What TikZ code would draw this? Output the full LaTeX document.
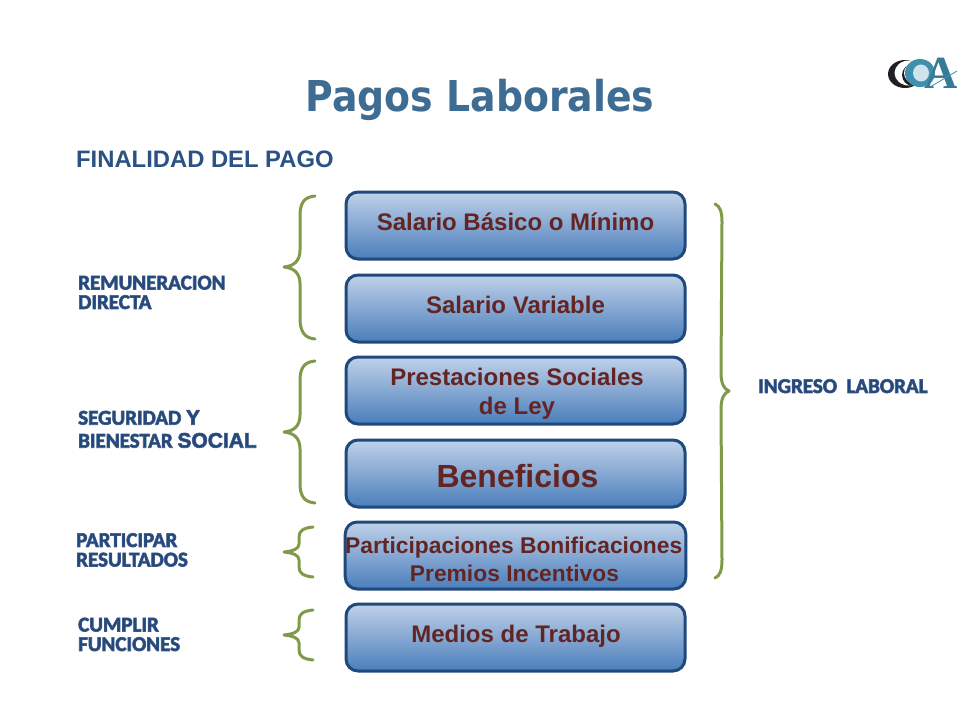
\documentclass[tikz,border=0pt]{standalone}
\usepackage{fontspec}
\setmainfont{Liberation Sans}
\newfontfamily\carl{Carlito}
\newfontfamily\titlefont[FakeStretch=0.89]{DejaVu Sans}
\newfontfamily\lserif{Liberation Serif}
\definecolor{boxline}{HTML}{1F497D}
\definecolor{boxtop}{HTML}{C0D1E9}
\definecolor{boxbot}{HTML}{4A7EBB}
\definecolor{maroon}{HTML}{632523}
\definecolor{bracec}{HTML}{7F9A48}
\definecolor{labelc}{HTML}{1F497D}
\definecolor{titlec}{HTML}{3F6C93}
\definecolor{logot}{HTML}{3F8FAF}
\definecolor{logod}{HTML}{1F1F24}
\newcommand{\shtext}[1]{\special{pdf:code 2 Tr 0.7 w 0.25 0.34 0.52 RG}#1\special{pdf:code 0 Tr}}
\tikzset{x=1pt,y=-1pt,
 paybox/.style={rectangle,rounded corners=12pt,draw=boxline,line width=3pt,top color=boxtop,bottom color=boxbot,minimum width=339pt,minimum height=67pt,inner sep=0pt,align=center,text=maroon,font=\fontsize{24}{29}\bfseries},
 bracel/.style={draw=bracec,line width=3pt,line cap=round,line join=round},
 sidelabel/.style={anchor=north west,inner sep=0pt,align=left,text=labelc,font=\carl\fontsize{21}{19.5}\bfseries}}
\begin{document}
\begin{tikzpicture}
\useasboundingbox (0,0) rectangle (960,720);
\fill[white] (0,0) rectangle (960,720);
\node[text=titlec,font=\titlefont\fontsize{42.5}{50}\bfseries] (title) at (480,100) {Pagos Laborales};
\node[anchor=west,inner sep=0pt,text=labelc!95!white,font=\fontsize{23.8}{26}\bfseries] (fin) at (76,159) {FINALIDAD DEL PAGO};
% logo
\fill[logod] (905,74) ellipse (17 and 14);
\fill[white] (909,73) ellipse (14.5 and 12.5);
\fill[logod] (913,75) ellipse (11 and 11);
\fill[white] (913,73) ellipse (9 and 9.5);
\fill[logot] (920,73) ellipse (15 and 14);
\fill[white!75!logot] (921,73) ellipse (8 and 8.5);
\node[font=\lserif\fontsize{46}{46}\bfseries,text=logot!85!black,inner sep=0pt] (logoA) at (941,73) {A};
\draw[logot,line width=.8pt] (930,87) -- (957,71);
% boxes
\node[paybox,text height=10pt,text depth=0pt] (b1) at (515.5,225.5) {Salario Básico o Mínimo};
\node[paybox,text height=9pt,text depth=0pt] (b2) at (515.5,308.5) {Salario Variable};
\node[paybox] (b3) at (515.5,390.5) {\rule{0pt}{24pt}\hspace*{3pt}Prestaciones Sociales\\\hspace*{3pt}de Ley};
\node[paybox,font=\fontsize{32}{34}\bfseries,text height=27pt,text depth=0pt] (b4) at (515.5,473.5) {\hspace*{4pt}Beneficios};
\node[paybox,font=\fontsize{22.8}{28}\bfseries] (b5) at (515.5,555.5) {\rule{0pt}{24pt}Participaciones Bonificaciones\hspace*{3.5pt}\\Premios Incentivos\hspace*{2pt}};
\node[paybox,text height=10pt,text depth=0pt] (b6) at (515.5,637.5) {\hspace*{1pt}Medios de Trabajo};
% left braces
\draw[bracel] (315,196) .. controls (304,197) and (300,203) .. (300,216) -- (300,250) .. controls (300,261) and (294,266) .. (284,267) .. controls (294,268) and (300,273) .. (300,284) -- (300,318) .. controls (300,331) and (304,338) .. (315,339);
\draw[bracel] (315,361) .. controls (304,362) and (300,368) .. (300,381) -- (300,415) .. controls (300,426) and (294,431) .. (284,432) .. controls (294,433) and (300,438) .. (300,449) -- (300,483) .. controls (300,496) and (304,502) .. (315,503);
\draw[bracel] (313,527) .. controls (303,528) and (299,531) .. (299,537) -- (299,544) .. controls (299,549) and (293,551) .. (284,552) .. controls (293,553) and (299,555) .. (299,560) -- (299,567) .. controls (299,573) and (303,576) .. (313,577);
\draw[bracel] (313,610) .. controls (303,611) and (299,614) .. (299,620) -- (299,627) .. controls (299,632) and (293,634) .. (284,635) .. controls (293,636) and (299,638) .. (299,643) -- (299,650) .. controls (299,656) and (303,659) .. (313,660);
% right brace
\draw[bracel] (715,204) .. controls (720,206) and (722,212) .. (722,222) -- (721,372) .. controls (721,384) and (724,389) .. (729,391) .. controls (724,393) and (721,398) .. (721,410) -- (722,560) .. controls (722,570) and (720,576) .. (715,578);
% labels
\node[sidelabel] (l1) at (78,275.5) {\shtext{REMUNERACION}\\\shtext{DIRECTA}};
\node[sidelabel,font=\carl\fontsize{21}{23}\bfseries] (l2) at (78,410) {\shtext{SEGURIDAD {\rmfamily Y}}\\\shtext{BIENESTAR {\rmfamily SOCIAL}}};
\node[sidelabel] (l3) at (76,533) {\shtext{PARTICIPAR}\\\shtext{RESULTADOS}};
\node[sidelabel] (l4) at (78,617.5) {\shtext{CUMPLIR}\\\shtext{FUNCIONES}};
\node[sidelabel] (l5) at (758,379) {\shtext{INGRESO~~LABORAL}};
\end{tikzpicture}
\end{document}
